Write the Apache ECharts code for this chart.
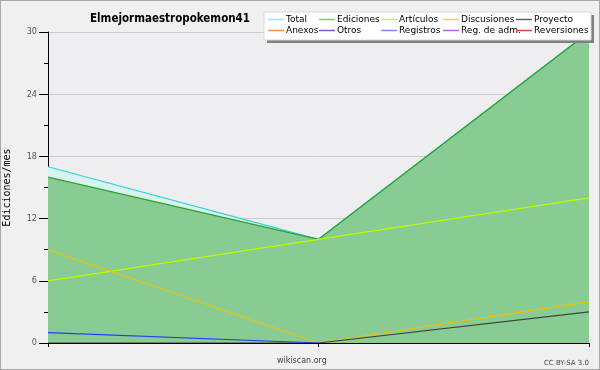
<!DOCTYPE html>
<html><head><meta charset="utf-8">
<script src="https://cdn.jsdelivr.net/npm/echarts@6/dist/echarts.min.js"></script>
<style>html,body{margin:0;padding:0;background:#f0f0f0}#c{width:600px;height:370px;box-sizing:border-box;border:1px solid #a8a8a8;}</style>
</head><body><div id="c"></div>
<script>
const categories = ['m1', 'm2', 'm3'];
const total = [17, 10, 30];
const ediciones = [16, 10, 30];
const articulos = [6, 10, 14];
const discusiones = [9, 0, 4];
const proyecto = [0, 0, 3];
const registros = [1, 0, null];
const yTicks = [0, 6, 12, 18, 24, 30];

const chart = echarts.init(document.getElementById('c'), null, {renderer: 'canvas'});
const leg = [
  ['Total', '#a8e4e0'], ['Anexos', '#f09050'],
  ['Ediciones', '#80c480'], ['Otros', '#8050d0'],
  ['Artículos', '#c8f060'], ['Registros', '#8088f0'],
  ['Discusiones', '#f0d060'], ['Reg. de adm.', '#c060e0'],
  ['Proyecto', '#606060'], ['Reversiones', '#e04040']
];
const colX = [267, 318, 380, 442, 515];
const legends = [];
for (let c = 0; c < 5; c++) {
  legends.push({
    orient: 'vertical', left: colX[c], top: 14, itemWidth: 16, itemHeight: 8, itemGap: 2,
    padding: 0, selectedMode: false, z: 30,
    textStyle: {fontFamily: 'DejaVu Sans', fontSize: 9, color: '#000', padding: [0, 0, 0, -3]},
    data: [leg[2*c], leg[2*c+1]].map(l => ({name: l[0], icon: 'path://M0,4.5L16,4.5L16,6L0,6Z', itemStyle: {color: l[1]}}))
  });
}
function line(name, data, color, area, z) {
  const s = {name, type: 'line', data, symbol: 'none', z, lineStyle: {color, width: 1.2}, itemStyle: {color}, silent: true, animation: false};
  if (area) s.areaStyle = area;
  return s;
}
chart.setOption({
  animation: false,
  backgroundColor: '#f0f0f0',
  title: {text: 'Elmejormaestropokemon41', left: 164, top: 7, textAlign: 'center',
    textStyle: {fontFamily: 'DejaVu Sans Condensed', fontWeight: 'bold', fontSize: 11.5, color: '#000'}},
  legend: legends,
  grid: {left: 47, right: 10, top: 31, bottom: 26, show: true, backgroundColor: '#eeeef0', borderWidth: 0, outerBoundsMode: 'none', containLabel: false},
  graphic: [
    {type: 'rect', shape: {x: 266, y: 14, width: 327, height: 28}, style: {fill: '#808080'}, z: 20},
    {type: 'rect', shape: {x: 263, y: 11, width: 327, height: 28}, style: {fill: '#ffffff', stroke: '#d8d8d8', lineWidth: 1}, z: 21},
    {type: 'text', left: 276, top: 356, style: {text: 'wikiscan.org', font: '8px DejaVu Sans', fill: '#404040'}},
    {type: 'text', right: 10, top: 359, style: {text: 'CC BY-SA 3.0', font: '7px DejaVu Sans', fill: '#404040'}}
  ],
  xAxis: {type: 'category', data: categories, boundaryGap: false, z: 10,
    axisLine: {lineStyle: {color: '#000', width: 1}},
    axisTick: {show: true, inside: false, length: 4, lineStyle: {color: '#000'}},
    axisLabel: {show: false}, splitLine: {show: false}},
  yAxis: {type: 'value', min: 0, max: 30, interval: 6,
    name: 'Ediciones/mes', nameLocation: 'middle', nameGap: 36, nameRotate: 90,
    nameTextStyle: {fontFamily: 'DejaVu Sans Mono', fontSize: 10, color: '#000'},
    axisLine: {show: true, lineStyle: {color: '#000', width: 1}},
    axisTick: {show: true, length: 9, lineStyle: {color: '#000'}},
    minorTick: {show: true, splitNumber: 2, length: 4, lineStyle: {color: '#000'}},
    axisLabel: {fontFamily: 'DejaVu Sans Condensed', fontSize: 9, color: '#555', margin: 11,
      formatter: v => yTicks.includes(v) ? String(v) : ''},
    splitLine: {show: true, lineStyle: {color: '#cccccc', width: 1}}},
  series: [
    line('Total', total, '#30d4d4', {color: '#d8f2ee', opacity: 1}, 2),
    line('Ediciones', ediciones, '#2ca42c', {color: '#38a438', opacity: 0.5}, 3),
    line('Artículos', articulos, '#c0f800', null, 4),
    line('Discusiones', discusiones, '#f0c000', null, 5),
    line('Proyecto', proyecto, '#404040', null, 6),
    line('Registros', registros, '#2040f0', null, 7),
    line('Anexos', [], '#f09050', null, 1),
    line('Otros', [], '#8050d0', null, 1),
    line('Reg. de adm.', [], '#c060e0', null, 1),
    line('Reversiones', [], '#e04040', null, 1)
  ]
});
</script></body></html>
